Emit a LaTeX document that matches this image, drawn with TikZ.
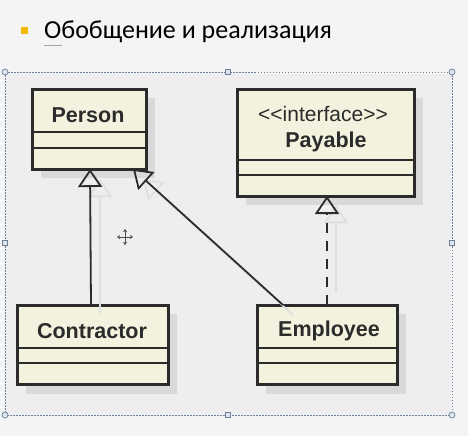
\documentclass[tikz,border=0pt]{standalone}
\usepackage{fontspec}
\setmainfont{Liberation Sans}
\newfontfamily\titlefont{Carlito}
\usetikzlibrary{arrows.meta,calc}
\definecolor{outerbg}{HTML}{F3F4F6}
\definecolor{innerbg}{HTML}{EEEEEE}
\definecolor{boxfill}{HTML}{F3F2DE}
\definecolor{boxline}{HTML}{2B2B2B}
\definecolor{shadowc}{HTML}{D9D9D9}
\definecolor{ghostc}{HTML}{DEDEDE}
\definecolor{selc}{HTML}{6E7F93}
\definecolor{handlefill}{HTML}{DDE6F0}
\definecolor{bulletc}{HTML}{F5B800}
\begin{document}
\begin{tikzpicture}[x=1pt,y=-1pt,
  umlbox/.style={draw=boxline, line width=3pt, fill=boxfill, inner sep=0pt, outer sep=0pt},
  boxshadow/.style={fill=shadowc, draw=none},
  divider/.style={draw=boxline, line width=1.5pt},
  lbl/.style={font=\fontsize{21.5}{25}\selectfont\bfseries, text=boxline, inner sep=0pt},
  lblreg/.style={font=\fontsize{21}{25}\selectfont, text=boxline, inner sep=0pt},
  gen/.style={draw=boxline, line width=1.8pt, -{Triangle[open, length=18pt, width=24pt, line width=1.8pt]}},
  real/.style={gen, dash pattern=on 10pt off 8pt},
  ghost/.style={draw=ghostc, line width=1.6pt, -{Triangle[open, length=18pt, width=24pt, line width=1.6pt]}},
  handlec/.style={draw=selc, fill=handlefill, line width=0.7pt},
  selframe/.style={draw=selc, line width=0.8pt, dash pattern=on 1.5pt off 1.5pt}
]
\useasboundingbox (0,0) rectangle (468,436);
\fill[outerbg] (0,0) rectangle (468,436);
\fill[innerbg] (6,74) rectangle (451,414);

% title
\fill[bulletc] (21,27) rectangle (28,34);
\node[font=\titlefont\fontsize{26}{30}\selectfont, anchor=base west, inner sep=0pt] (title) at (44,39) {Обобщение и реализация};
\draw[gray!70, line width=1pt] (44,46) -- (62,46);

% shadows
\fill[boxshadow] (41,98) rectangle (155,178);
\fill[boxshadow] (246,98) rectangle (423,205);
\fill[boxshadow] (26,314) rectangle (177,394);
\fill[boxshadow] (266,314) rectangle (406,394);

% boxes
\node[umlbox, minimum width=114pt, minimum height=80pt] (person) at (89,129) {};
\node[umlbox, minimum width=177pt, minimum height=107pt] (payable) at (325.5,142.5) {};
\node[umlbox, minimum width=151pt, minimum height=79pt] (contractor) at (92.5,344.5) {};
\node[umlbox, minimum width=140pt, minimum height=79pt] (employee) at (327,344.5) {};

% dividers
\draw[divider] (32,132) -- (146,132);
\draw[divider] (32,148) -- (146,148);
\draw[divider] (237,160) -- (414,160);
\draw[divider] (237,175) -- (414,175);
\draw[divider] (17,348) -- (168,348);
\draw[divider] (17,363) -- (168,363);
\draw[divider] (257,348) -- (397,348);
\draw[divider] (257,363) -- (397,363);

% labels
\node[lbl] (tperson) at (88,115) {Person};
\node[lblreg] (tiface) at (323,114) {{<}{<}interface{>}{>}};
\node[lbl] (tpayable) at (326,142) {Payable};
\node[lbl] (tcontr) at (92,331) {Contractor};
\node[lbl] (templ) at (329,331) {Employee};

% ghost arrows
\draw[ghost] ($(contractor.north west)+(83,8)$) -- ($(person.south west)+(68,10)$);
\draw[ghost] ($(employee.north west)+(36,10)$) -- ($(person.south east)+(-3,10)$);
\draw[ghost] ($(employee.north west)+(79,-12)$) -- ($(payable.south west)+(99,9)$);

% real arrows
\draw[gen] ($(contractor.north west)+(74,0)$) -- ($(person.south west)+(58,0)$);
\draw[gen] ($(employee.north west)+(26,0)$) -- ($(person.south east)+(-13,0)$);
\draw[real] ($(employee.north west)+(70,0)$) -- ($(payable.south west)+(90,0)$);

% move cursor
\coordinate (mc) at (125,237);
\foreach \dx/\dy in {0/-8,0/8,-8/0,8/0}
  \draw[black!70, line width=0.8pt, -{Stealth[length=3pt,width=4pt]}] (mc) -- ++(\dx,\dy);

% selection frame
\draw[selframe] (5,72) rectangle (452,415);
\foreach \hx/\hy in {5/72,452/72,5/415,452/415}
  \draw[handlec] (\hx,\hy) circle (3pt);
\foreach \hx/\hy in {228/72,228/415,5/243,452/243}
  \draw[handlec] (\hx-2.5,\hy-2.5) rectangle (\hx+2.5,\hy+2.5);
\end{tikzpicture}
\end{document}
